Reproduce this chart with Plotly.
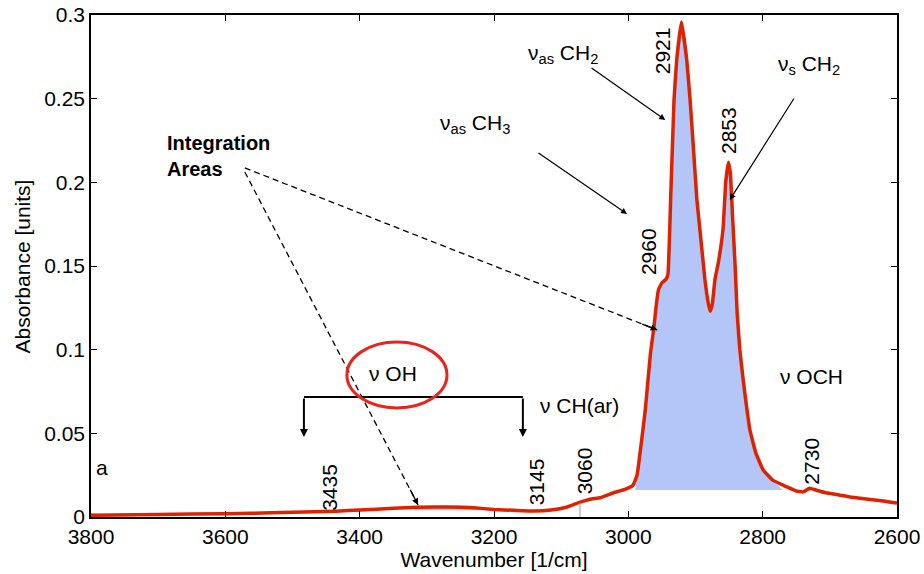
import plotly.graph_objects as go

# ---------------- data ----------------
wavenumber = [3800, 3700, 3600, 3562, 3500, 3435, 3400, 3350, 3314, 3265, 3230, 3200,
              3170, 3141, 3115, 3091, 3075, 3067, 3055, 3042, 3022, 3005, 2993, 2987,
              2982, 2975, 2967, 2962, 2958, 2955, 2950, 2944, 2941, 2937, 2932, 2928,
              2921, 2913, 2908, 2903, 2898, 2893, 2886, 2881, 2878, 2875, 2871, 2866,
              2859, 2855, 2851, 2848, 2845, 2841, 2838, 2834, 2829, 2824, 2819, 2810,
              2799, 2785, 2764, 2750, 2740, 2730, 2720, 2704, 2690, 2670, 2640, 2620,
              2603, 2600]
absorbance = [0.0010, 0.0015, 0.0020, 0.0022, 0.0028, 0.0035, 0.0042, 0.0052, 0.0058, 0.0060, 0.0055, 0.0045,
              0.0040, 0.0036, 0.0042, 0.0060, 0.0085, 0.0095, 0.0108, 0.0115, 0.0145, 0.0165, 0.0190, 0.0250,
              0.0400, 0.0630, 0.0980, 0.1130, 0.1280, 0.1360, 0.1400, 0.1420, 0.1450, 0.1900, 0.2490, 0.2730,
              0.2960, 0.2730, 0.2490, 0.2200, 0.1900, 0.1700, 0.1420, 0.1280, 0.1230, 0.1270, 0.1420, 0.1520,
              0.1720, 0.2000, 0.2120, 0.2050, 0.1810, 0.1500, 0.1220, 0.1000, 0.0820, 0.0660, 0.0520, 0.0380,
              0.0280, 0.0220, 0.0180, 0.0155, 0.0150, 0.0172, 0.0160, 0.0143, 0.0135, 0.0120, 0.0105, 0.0095,
              0.0085, 0.0083]

# integration areas: (high wavenumber, low wavenumber, baseline)
ch_area = (2990, 2770, 0.0162)
oh_area = (3320, 3200, 0.0040)

peak_labels = ["2921", "2853", "2960", "3435", "3145", "3060", "2730"]

FONT = "Liberation Sans, Arial, sans-serif"
RED = "#dd2200"
FILL = "#b3c6f7"

fig = go.Figure()


def area_trace(lo_hi):
    hi, lo, base = lo_hi
    xs = [w for w in wavenumber if lo <= w <= hi]
    ys = [a for w, a in zip(wavenumber, absorbance) if lo <= w <= hi]
    xs = [hi] + xs + [lo, lo, hi]
    ys = [base] + ys + [base, base, base]
    return go.Scatter(x=xs, y=ys, fill="toself", fillcolor=FILL, mode="none",
                      hoverinfo="skip", showlegend=False)


fig.add_trace(area_trace(ch_area))
fig.add_trace(area_trace(oh_area))

fig.add_trace(go.Scatter(x=wavenumber, y=absorbance, mode="lines",
                         line=dict(color=RED, width=3.5, shape="spline", smoothing=0.3),
                         showlegend=False))

annotations = []
shapes = []

# text labels
def txt(x, y, s, size=21, **kw):
    d = dict(x=x, y=y, xref="x", yref="y", text=s, showarrow=False,
             font=dict(family=FONT, size=size, color="black"))
    d.update(kw)
    annotations.append(d)

txt(3690, 0.2158, "<b>Integration</b><br><b>Areas</b>", size=20, xanchor="left", align="left")
txt(3229, 0.2350, "ν<sub>as</sub> CH<sub>3</sub>")
txt(3097, 0.2767, "ν<sub>as</sub> CH<sub>2</sub>")
txt(2731, 0.2700, "ν<sub>s</sub> CH<sub>2</sub>")
txt(3350, 0.0855, "ν OH")
txt(3073, 0.0669, "ν CH(ar)")
txt(2727, 0.0837, "ν OCH")
txt(3784, 0.0293, "a")

label_pos = [(2948, 0.2785), (2850, 0.2307), (2969, 0.1584), (3446, 0.0179),
             (3137, 0.0209), (3064, 0.0275), (2727, 0.0335)]
for lab, (x, y) in zip(peak_labels, label_pos):
    txt(x, y, lab, textangle=-90)

# y-axis title placed as paper annotation
annotations.append(dict(x=-0.085, y=0.5, xref="paper", yref="paper", text="Absorbance [units]",
                        showarrow=False, textangle=-90, xanchor="center", yanchor="middle",
                        font=dict(family=FONT, size=21, color="black")))

# solid arrows
def arrow(x0, y0, x1, y1, width=1.2, size=1.0, head=2):
    annotations.append(dict(x=x1, y=y1, ax=x0, ay=y0, xref="x", yref="y", axref="x", ayref="y",
                            text="", showarrow=True, arrowhead=head, arrowsize=size,
                            arrowwidth=width, arrowcolor="black"))

arrow(3136, 0.2182, 3002, 0.1811)
arrow(3057, 0.2690, 2945, 0.2373)
arrow(2752, 0.2510, 2849, 0.1895)

# dashed arrows from "Integration Areas"
def dashed_arrow(x0, y0, x1, y1, frac=0.05):
    shapes.append(dict(type="line", xref="x", yref="y", x0=x0, y0=y0, x1=x1, y1=y1,
                       line=dict(color="black", width=1.3, dash="6px,4px")))
    arrow(x1 + (x0 - x1) * frac, y1 + (y0 - y1) * frac, x1, y1, width=1.3)

dashed_arrow(3571, 0.2086, 2957, 0.1118, 0.04)
dashed_arrow(3571, 0.2062, 3313, 0.0072, 0.05)

# bracket with downward arrows
shapes.append(dict(type="line", xref="x", yref="y", x0=3483, y0=0.0717, x1=3157, y1=0.0717,
                   line=dict(color="black", width=2)))
arrow(3483, 0.0717, 3483, 0.0478, width=2, size=0.8)
arrow(3157, 0.0717, 3157, 0.0478, width=2, size=0.8)

# red ellipse round nu OH
shapes.append(dict(type="circle", xref="x", yref="y", x0=3419, x1=3270, y0=0.0652, y1=0.1046,
                   line=dict(color="#e8241c", width=3)))

# small gray marker line near 3070
shapes.append(dict(type="line", xref="x", yref="y", x0=3072, x1=3072, y0=0, y1=0.0085,
                   line=dict(color="#999999", width=1)))

axis_common = dict(showline=True, linecolor="black", linewidth=1.5, mirror="ticks",
                   ticks="inside", ticklen=6, tickcolor="black", showgrid=False,
                   zeroline=False, automargin=False,
                   tickfont=dict(family=FONT, size=21, color="black"))

fig.update_layout(
    width=924, height=574,
    margin=dict(l=91, r=27, t=15, b=57),
    paper_bgcolor="white", plot_bgcolor="white",
    font=dict(family=FONT, size=21, color="black"),
    xaxis=dict(range=[3800, 2600], dtick=200, tick0=2600,
               title=dict(text="Wavenumber [1/cm]", standoff=2,
                          font=dict(family=FONT, size=21)),
               **axis_common),
    yaxis=dict(range=[0, 0.3], dtick=0.05, **axis_common),
    annotations=annotations,
    shapes=shapes,
)

fig.write_html("out.html")
